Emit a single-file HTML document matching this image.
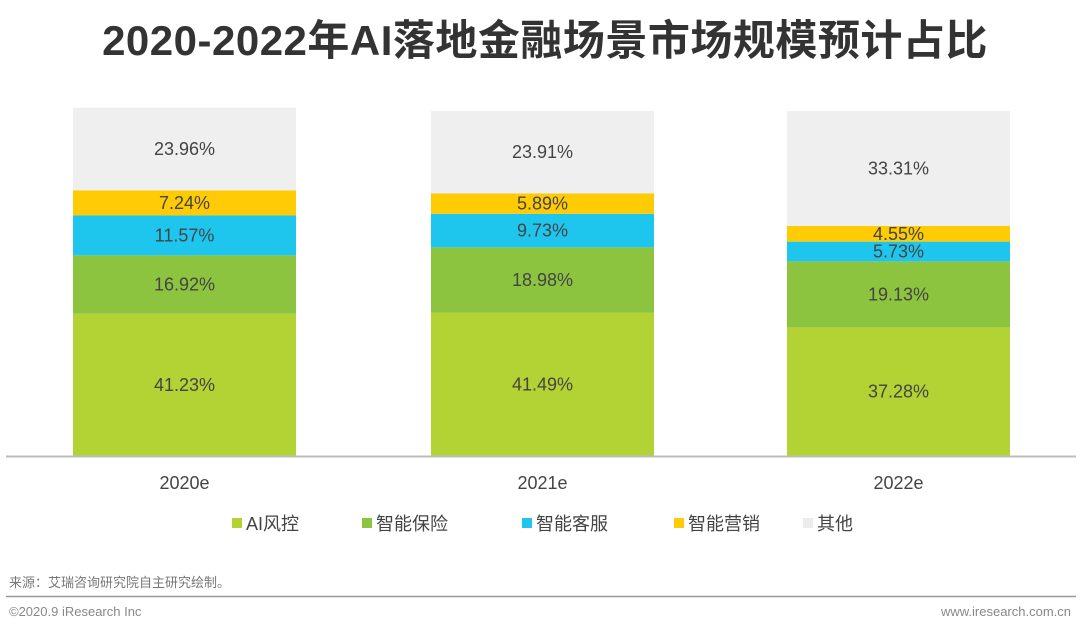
<!DOCTYPE html>
<html><head><meta charset="utf-8">
<style>
html,body{margin:0;padding:0;background:#fff;}
body{width:1080px;height:632px;overflow:hidden;font-family:"Liberation Sans","Noto Sans CJK SC",sans-serif;}
</style></head>
<body>
<svg id="chart" width="1080" height="632" xmlns="http://www.w3.org/2000/svg" font-family="Liberation Sans, Noto Sans CJK SC, sans-serif">
<text x="545" y="55" text-anchor="middle" font-size="42" font-weight="bold" fill="#333" letter-spacing="0.5">2020-2022年AI落地金融场景市场规模预计占比</text>
<g id="bars"></g>
<line x1="6" y1="456.5" x2="1076" y2="456.5" stroke="#bdbdbd" stroke-width="2"/>
<g id="xlabels"></g>
<g id="legend"></g>
<text x="9" y="587" font-size="13" fill="#777">来源：艾瑞咨询研究院自主研究绘制。</text>
<line x1="6" y1="596.5" x2="1076" y2="596.5" stroke="#999" stroke-width="1.5"/>
<text x="9" y="616" font-size="13" fill="#888">©2020.9 iResearch Inc</text>
<text x="1071" y="616" text-anchor="end" font-size="13" fill="#888">www.iresearch.com.cn</text>
</svg>
<script>
const years = ["2020e","2021e","2022e"];
const seriesNames = ["AI风控","智能保险","智能客服","智能营销","其他"];
const seriesColors = ["#b3d234","#8cc43f","#1ec6ee","#ffcb05","#efefef"];
const values = [
  [41.23,41.49,37.28],
  [16.92,18.98,19.13],
  [11.57,9.73,5.73],
  [7.24,5.89,4.55],
  [23.96,23.91,33.31]
];
const NS="http://www.w3.org/2000/svg";
const baseY=456, plotH=345, barW=223;
const barX = i => 73 + i*357 + (i===1?1:0);
const yScale = v => v/100*plotH;
const bars=document.getElementById('bars');
years.forEach((yr,i)=>{
  let acc=0;
  values.forEach((ser,s)=>{
    const v=ser[i];
    const h=yScale(v);
    const y=baseY-yScale(acc)-h;
    const r=document.createElementNS(NS,'rect');
    r.setAttribute('x',barX(i));r.setAttribute('y',y);r.setAttribute('width',barW);r.setAttribute('height',h);
    r.setAttribute('fill',seriesColors[s]);
    
    
    bars.appendChild(r);
    const t=document.createElementNS(NS,'text');
    t.setAttribute('x',barX(i)+barW/2);t.setAttribute('y',y+h/2+6);
    t.setAttribute('text-anchor','middle');t.setAttribute('font-size','18');t.setAttribute('fill','#444');
    t.textContent=v.toFixed(2)+'%';
    
    
    bars.appendChild(t);
    acc+=v;
  });
  const xl=document.createElementNS(NS,'text');
  xl.setAttribute('x',barX(i)+barW/2);xl.setAttribute('y',489);
  xl.setAttribute('text-anchor','middle');xl.setAttribute('font-size','18');xl.setAttribute('fill','#444');
  xl.textContent=yr;
  
  
  document.getElementById('xlabels').appendChild(xl);
});
const legX=[232,362,522,674,803];
const leg=document.getElementById('legend');
seriesNames.forEach((n,s)=>{
  const g=document.createElementNS(NS,'g');
  
  
  const r=document.createElementNS(NS,'rect');
  r.setAttribute('x',legX[s]);r.setAttribute('y',518);r.setAttribute('width',10);r.setAttribute('height',10);
  r.setAttribute('fill',seriesColors[s]==="#efefef"?"#ececec":seriesColors[s]);
  const t=document.createElementNS(NS,'text');
  t.setAttribute('x',legX[s]+14);t.setAttribute('y',530);t.setAttribute('font-size','18');t.setAttribute('fill','#444');
  t.textContent=n;
  g.appendChild(r);g.appendChild(t);leg.appendChild(g);
});
</script>
</body></html>
